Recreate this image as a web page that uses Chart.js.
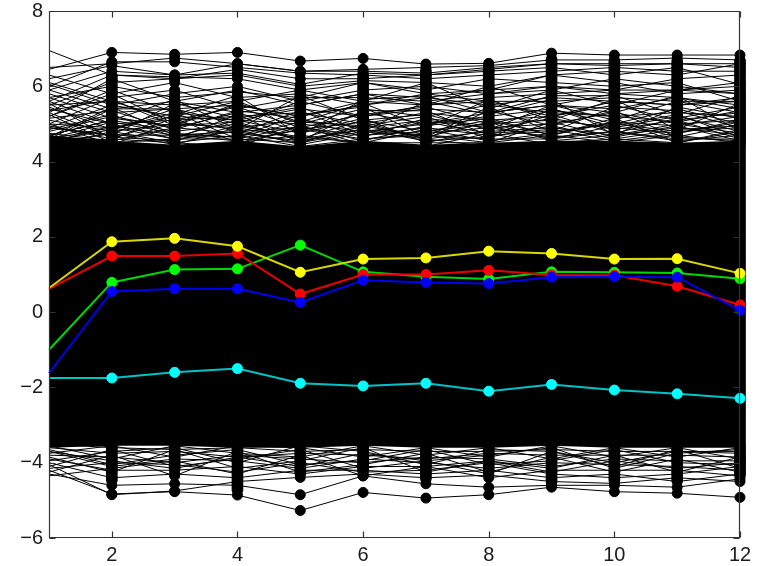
<!DOCTYPE html>
<html><head><meta charset="utf-8">
<script src="https://cdn.jsdelivr.net/npm/chart.js@4.4.1/dist/chart.umd.min.js"></script>
<style>html,body{margin:0;padding:0;background:#fff;}#wrap{width:761px;height:566px;}</style>
</head><body><div id="wrap"><canvas id="c" width="761" height="566"></canvas></div>
<script>
// ---- data ----
const xValues = [1,2,3,4,5,6,7,8,9,10,11,12];
const xTicks = [2,4,6,8,10,12];
const yTicks = [-6,-4,-2,0,2,4,6,8];

const yellowSeries = [0.64,1.87,1.96,1.75,1.06,1.41,1.44,1.62,1.56,1.41,1.42,1.03];
const redSeries    = [0.62,1.49,1.49,1.56,0.48,1.00,1.00,1.11,0.99,0.98,0.69,0.19];
const greenSeries  = [-1.00,0.79,1.13,1.15,1.78,1.07,0.94,0.88,1.07,1.06,1.04,0.89];
const blueSeries   = [-1.62,0.55,0.62,0.62,0.26,0.85,0.79,0.76,0.93,0.94,0.93,0.05];
const cyanSeries   = [-1.75,-1.75,-1.60,-1.50,-1.89,-1.96,-1.89,-2.10,-1.92,-2.07,-2.17,-2.29];

// dense core of the black profiles (upper / lower envelope of the solid mass)
const coreHigh = [4.70,4.55,4.45,4.55,4.40,4.55,4.45,4.50,4.55,4.55,4.50,4.55];
const coreLow  = [-3.60,-3.55,-3.55,-3.60,-3.60,-3.55,-3.60,-3.60,-3.55,-3.60,-3.60,-3.60];

// extent of the stacked black markers at each x (x = 2..12)
const columnX    = [2,3,4,5,6,7,8,9,10,11,12];
const columnHigh = [6.40,5.70,5.85,6.05,6.40,6.55,6.60,6.85,6.80,6.80,6.80];
const columnLow  = [-4.60,-4.30,-4.86,-4.40,-4.34,-4.56,-4.33,-4.65,-4.60,-4.60,-4.45];

// individual black profiles visible above the core
const blackHigh = [
  [6.95,6.30,6.25,6.20,5.90,6.10,5.80,5.90,6.00,5.90,5.90,5.80],
  [6.45,6.90,6.85,6.90,6.67,6.74,6.59,6.61,6.88,6.83,6.83,6.83],
  [6.50,6.60,6.75,6.60,6.40,6.40,6.35,6.50,6.60,6.60,6.60,6.60],
  [6.00,6.65,6.65,6.50,6.35,6.30,6.20,6.30,6.40,6.50,6.40,6.40],
  [5.90,6.40,6.30,6.35,6.05,6.35,6.30,6.40,6.50,6.30,6.50,6.05],
  [5.60,6.30,6.20,6.30,6.00,6.15,6.10,6.00,6.30,6.40,6.30,6.60],
  [5.70,6.00,5.70,5.85,5.70,6.10,5.90,6.20,6.10,6.00,6.10,5.60],
  [5.30,6.20,5.60,5.90,5.50,5.80,5.70,5.90,6.30,6.10,5.80,5.90],
  [5.50,5.60,5.50,5.60,5.90,5.60,5.50,5.70,5.80,5.90,6.20,6.30],
  [5.80,5.30,5.40,5.50,5.20,5.50,5.80,5.60,5.60,5.70,5.60,5.60],
  [5.20,5.90,5.30,5.10,5.40,5.20,5.40,5.30,5.50,5.40,5.70,5.40],
  [4.90,5.50,5.20,5.60,5.00,5.40,5.20,5.50,5.30,5.20,5.30,5.20],
  [5.40,5.00,5.10,5.20,5.30,5.00,5.30,5.10,5.20,5.50,5.10,5.30],
  [4.80,5.20,4.90,5.30,4.80,5.30,5.00,5.20,5.40,5.00,5.40,5.00],
  [5.10,4.80,5.00,4.90,5.10,4.90,5.10,4.90,5.00,5.30,5.00,5.10],
  [4.70,5.10,4.80,5.00,4.60,5.10,4.80,5.00,5.10,4.90,5.20,4.80],
  [4.90,4.70,4.70,4.80,4.90,4.70,4.90,4.70,4.80,5.00,4.80,4.90],
  [4.60,4.90,4.60,4.60,4.50,4.80,4.60,4.80,4.90,4.70,4.90,4.70],
  [6.05,5.50,5.80,6.00,5.60,5.90,6.00,5.80,6.00,5.80,5.90,6.10],
  [5.00,5.70,5.90,5.40,5.70,5.70,5.60,5.80,5.90,6.20,6.00,5.80],
  [6.30,5.80,6.10,5.70,5.80,5.50,5.70,5.50,5.70,5.60,5.50,5.70],
  [5.90,5.40,5.60,5.30,5.50,5.80,5.50,6.00,5.50,5.80,5.70,5.50],
  [5.20,5.80,5.00,5.50,5.20,5.60,6.10,5.40,5.90,5.50,5.90,6.00],
  [4.60,5.40,5.40,5.00,5.60,5.20,5.50,5.60,5.20,5.60,5.50,5.60],
  [5.00,4.90,5.20,5.10,5.00,4.80,5.00,5.30,5.50,5.10,5.60,5.30],
  [4.50,4.60,4.50,4.70,4.40,4.60,4.70,4.60,4.60,4.80,4.60,4.60],
  [4.40,4.50,4.40,4.50,4.70,4.50,4.50,4.50,4.70,4.50,4.70,4.50],
  [5.60,5.00,4.60,4.80,4.50,5.00,4.60,4.40,4.50,4.60,4.50,4.80],
  [6.20,6.55,6.30,6.60,6.40,6.45,6.50,6.55,6.70,6.70,6.75,6.70],
  [5.50,6.10,6.20,6.45,6.20,6.20,6.30,6.45,6.60,6.55,6.60,6.50],
  [4.50,4.95,4.70,4.55,4.85,4.60,4.75,4.90,4.65,4.80,4.55,4.70],
  [4.75,4.55,4.90,4.75,4.55,4.85,4.55,4.65,4.95,4.60,4.85,4.95],
  [5.30,4.65,4.55,4.95,4.65,4.50,4.85,4.55,4.75,5.05,4.65,4.55],
  [4.60,5.05,4.75,4.65,5.05,4.95,4.65,5.05,4.55,4.70,5.00,4.75],
  [5.00,4.45,5.05,4.85,4.45,4.75,5.05,4.75,4.85,4.55,4.75,5.05],
  [4.85,5.25,4.65,5.10,4.75,5.15,4.50,4.85,5.15,4.85,5.10,4.60],
  [5.45,4.85,5.30,4.60,4.95,4.55,4.95,5.15,4.70,5.15,4.50,4.85],
  [4.45,4.75,4.45,4.90,4.60,4.85,4.70,4.50,5.05,4.65,4.95,5.20],
  [5.15,5.35,4.85,5.35,5.15,4.65,5.15,4.95,4.60,4.95,5.25,4.65],
  [4.95,4.60,5.15,4.50,4.85,5.05,4.60,5.35,4.95,5.35,4.65,5.00],
  [5.70,5.15,4.95,5.05,4.55,5.35,5.35,4.70,5.25,4.75,5.15,5.45],
  [4.55,4.85,5.40,4.75,5.35,4.70,4.80,5.10,4.70,5.05,4.95,4.55],
  [5.25,4.50,4.60,5.25,4.50,4.95,5.20,4.60,5.40,4.90,4.75,5.10],
  [4.65,5.45,4.70,4.65,5.25,5.45,4.65,5.45,4.80,5.45,5.35,4.90],
  [6.10,5.60,5.10,5.45,4.90,5.25,5.45,5.00,5.35,5.20,5.05,5.35],
  [4.90,4.70,5.55,5.15,5.45,4.80,5.60,5.25,5.65,4.70,5.45,5.15],
  [5.35,5.65,4.95,5.55,5.05,5.55,4.90,5.65,5.10,5.65,4.85,5.55],
  [4.70,5.10,5.65,4.85,5.75,5.10,5.25,4.85,5.50,5.30,5.75,4.80],
  [5.55,4.60,5.25,5.75,4.70,5.65,5.75,5.30,5.75,5.75,5.25,5.75],
  [4.40,4.80,4.50,4.40,4.95,4.45,4.40,4.75,4.45,4.45,4.40,4.45]
];

// individual black profiles visible below the core
const blackLow = [
  [-4.20,-4.83,-4.77,-4.86,-5.27,-4.79,-4.94,-4.85,-4.65,-4.77,-4.81,-4.92],
  [-4.30,-4.60,-4.56,-4.60,-4.85,-4.35,-4.56,-4.65,-4.60,-4.60,-4.65,-4.43],
  [-4.05,-4.85,-4.75,-4.50,-4.39,-4.30,-4.40,-4.33,-4.50,-4.55,-4.40,-4.50],
  [-4.00,-4.40,-4.30,-4.40,-4.20,-4.20,-4.30,-4.20,-4.40,-4.30,-4.50,-4.30],
  [-3.90,-4.20,-4.20,-4.10,-4.30,-4.10,-4.10,-4.40,-4.20,-4.20,-4.20,-4.35],
  [-4.15,-4.00,-4.05,-4.25,-4.00,-4.25,-4.20,-4.00,-4.30,-4.40,-4.30,-4.10],
  [-3.70,-4.10,-3.90,-3.95,-4.15,-3.90,-4.00,-4.15,-4.00,-4.05,-4.10,-4.20],
  [-3.80,-3.85,-4.00,-3.80,-3.90,-4.00,-3.85,-3.90,-4.10,-3.90,-3.95,-3.95],
  [-3.60,-3.75,-3.70,-3.85,-3.75,-3.80,-3.90,-3.75,-3.80,-3.80,-3.80,-3.85],
  [-3.50,-3.60,-3.65,-3.60,-3.70,-3.65,-3.70,-3.70,-3.65,-3.70,-3.70,-3.70],
  [-3.55,-3.90,-3.55,-3.75,-3.85,-3.55,-3.80,-3.60,-3.90,-3.60,-3.85,-3.60],
  [-3.75,-3.55,-3.85,-3.55,-3.60,-3.85,-3.60,-3.85,-3.55,-3.85,-3.60,-3.90],
  [-3.95,-3.70,-3.60,-4.00,-3.55,-3.70,-4.05,-3.65,-3.70,-4.00,-3.70,-3.75],
  [-3.65,-4.05,-3.80,-3.65,-4.05,-3.95,-3.65,-4.05,-3.95,-3.65,-4.00,-4.05],
  [-4.10,-3.65,-4.10,-3.90,-3.65,-4.15,-3.95,-3.80,-3.60,-4.15,-3.75,-3.65],
  [-3.85,-4.25,-3.65,-4.15,-3.95,-3.60,-4.25,-3.95,-4.15,-3.80,-4.25,-3.85],
  [-4.25,-3.80,-4.35,-3.70,-4.25,-4.05,-3.75,-4.25,-3.85,-4.25,-3.90,-4.25],
  [-3.45,-3.50,-3.50,-3.50,-3.55,-3.50,-3.55,-3.55,-3.50,-3.55,-3.55,-3.55],
  [-4.35,-4.15,-3.95,-4.30,-3.80,-4.35,-4.10,-3.95,-4.25,-3.95,-4.15,-4.00],
  [-3.70,-3.95,-4.15,-3.85,-4.10,-3.75,-3.95,-4.30,-3.70,-4.10,-3.65,-4.15]
];

// ---- chart ----
const toXY = arr => arr.map((v,i) => ({x: xValues[i], y: v}));
const markerRadius = ctx => ctx.dataIndex === 0 ? 0 : 5;

function coloredLine(data, line, fill) {
  return {
    type: 'line', data: toXY(data), order: 0,
    borderColor: line, borderWidth: 2,
    pointBackgroundColor: fill, pointBorderColor: fill, pointBorderWidth: 1,
    pointRadius: markerRadius, tension: 0, clip: false
  };
}
function blackLine(data) {
  return {
    type: 'line', data: toXY(data), order: 5,
    borderColor: '#000', borderWidth: 1,
    pointBackgroundColor: '#000', pointBorderColor: '#000', pointBorderWidth: 1,
    pointRadius: markerRadius, tension: 0, clip: false
  };
}

const datasets = [
  coloredLine(blueSeries,   '#0000f0', '#0000ff'),
  coloredLine(yellowSeries, '#d8d800', '#ffff00'),
  coloredLine(redSeries,    '#e80000', '#ff0000'),
  coloredLine(greenSeries,  '#00d800', '#00ff00'),
  coloredLine(cyanSeries,   '#00c4c4', '#00ffff'),
  ...blackHigh.map(blackLine),
  ...blackLow.map(blackLine),
  {
    type: 'bar', order: 6, clip: false,
    data: columnX.map((x,i) => ({x: x, y: [columnLow[i], columnHigh[i]]})),
    backgroundColor: '#000', borderWidth: 0, barThickness: 11,
    borderRadius: 5.5, borderSkipped: false
  },
  { type: 'line', order: 8, data: toXY(coreLow), borderWidth: 0, pointRadius: 0, borderColor: 'rgba(0,0,0,0)', fill: false },
  { type: 'line', order: 7, data: toXY(coreHigh), borderWidth: 0, pointRadius: 0, borderColor: 'rgba(0,0,0,0)', backgroundColor: '#000', fill: '-1' }
];

const axesBox = {
  id: 'axesBox',
  afterDraw(chart) {
    const {ctx, chartArea: a, scales: {x, y}} = chart;
    const L = Math.round(a.left) + 0.5, R = Math.round(a.right) - 0.5;
    const T = Math.round(a.top) + 0.5, B = Math.round(a.bottom) - 0.5;
    ctx.save();
    ctx.strokeStyle = '#333';
    ctx.lineWidth = 1.2;
    ctx.beginPath();
    ctx.rect(L, T, R - L, B - T);
    x.ticks.forEach(t => {
      const px = Math.round(x.getPixelForValue(t.value)) + 0.5;
      ctx.moveTo(px, B); ctx.lineTo(px, B - 6);
      ctx.moveTo(px, T); ctx.lineTo(px, T + 6);
    });
    y.ticks.forEach(t => {
      const py = Math.round(y.getPixelForValue(t.value)) + 0.5;
      ctx.moveTo(L, py); ctx.lineTo(L + 6, py);
      ctx.moveTo(R, py); ctx.lineTo(R - 6, py);
    });
    ctx.stroke();
    ctx.restore();
  }
};

const tickFont = {family: "'Liberation Sans', Arial, sans-serif", size: 20};
const fmt = v => v < 0 ? '\u2212' + Math.abs(v) : String(v);

new Chart(document.getElementById('c'), {
  type: 'line',
  data: { datasets },
  options: {
    responsive: false, animation: false, devicePixelRatio: 1,
    layout: { padding: { top: 11, right: 21, left: 0, bottom: 0 } },
    plugins: { legend: { display: false }, tooltip: { enabled: false } },
    scales: {
      x: {
        type: 'linear', min: 1, max: 12, offset: false,
        grid: { display: false, drawTicks: false }, border: { display: false },
        afterBuildTicks: s => { s.ticks = xTicks.map(v => ({value: v})); },
        afterFit: s => { s.height = 28; s.paddingLeft = 0; s.paddingRight = 0; },
        ticks: { font: tickFont, color: '#1a1a1a', padding: 5, maxRotation: 0, autoSkip: false, callback: fmt }
      },
      y: {
        type: 'linear', min: -6, max: 8,
        grid: { display: false, drawTicks: false }, border: { display: false },
        afterBuildTicks: s => { s.ticks = yTicks.map(v => ({value: v})); },
        afterFit: s => { s.width = 49; s.paddingTop = 0; s.paddingBottom = 0; },
        ticks: { font: tickFont, color: '#1a1a1a', padding: 6, autoSkip: false, callback: fmt }
      }
    }
  },
  plugins: [axesBox]
});
</script>
</body></html>
